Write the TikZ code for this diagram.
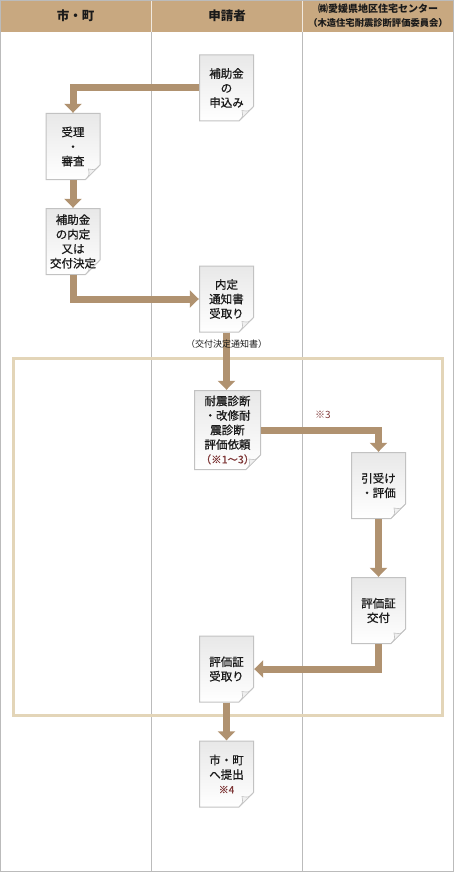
\documentclass[tikz,border=0pt]{standalone}
\usepackage{fontspec}
\setmainfont{Noto Sans CJK JP}
\newfontfamily\docfont{Noto Sans CJK JP}[FakeBold=0.7]
\usetikzlibrary{
  arrows.meta,  % 太い三角矢印
  calc,         % 用紙の角の計算
  positioning   % 注記の相対配置
}
\definecolor{headtan}{HTML}{C8A880}
\definecolor{flowtan}{HTML}{B09270}
\definecolor{framebeige}{HTML}{E3D5B8}
\definecolor{laneline}{HTML}{BBBBBB}
\definecolor{docline}{HTML}{C2C2C2}
\definecolor{docgray}{HTML}{E8E8E8}
\definecolor{notered}{HTML}{7D3535}
\definecolor{inkblack}{HTML}{1A1A1A}
% 書類の形 (右下が折れた用紙)
\newcommand{\docpaper}{%
  \coordinate (pnw) at (path picture bounding box.north west);
  \coordinate (pse) at (path picture bounding box.south east);
  \shadedraw[top color=docgray, bottom color=white, draw=docline, line width=1pt]
    ($(pnw)+(0.5pt,-0.5pt)$) -- ($(pse|-pnw)+(-0.5pt,-0.5pt)$)
    -- ($(pse)+(-0.5pt,15pt)$) -- ($(pse)+(-15pt,0.5pt)$)
    -- ($(pnw|-pse)+(0.5pt,0.5pt)$) -- cycle;
  \filldraw[fill=black!6, draw=docline, line width=0.6pt]
    ($(pse)+(-15pt,0.5pt)$) -- ($(pse)+(-0.5pt,15pt)$)
    .. controls ($(pse)+(-5pt,10pt)$) .. ($(pse)+(-12pt,11pt)$)
    .. controls ($(pse)+(-11pt,5pt)$) .. cycle;
}
\tikzset{
  lane line/.style={
    draw=laneline,
    line width=1pt
  },
  eval frame/.style={
    draw=framebeige,
    line width=3pt
  },
  flow arrow/.style={
    -{Triangle[width=17pt,length=9pt]},
    line width=7pt,
    draw=flowtan
  },
  lane head/.style={
    text=inkblack,
    font=\fontsize{12.5}{14}\selectfont\bfseries
  },
  doc box/.style={
    minimum width=55pt,
    minimum height=67pt,
    inner sep=0pt,
    align=center,
    text=inkblack,
    font=\docfont\fontsize{11.5}{14.5}\selectfont,
    path picture={\docpaper}
  },
  wide doc box/.style={
    doc box,
    minimum width=67pt,
    minimum height=80pt
  },
  note text/.style={
    text=notered,
    font=\fontsize{10}{12}\selectfont
  }
}

\begin{document}
\begin{tikzpicture}[x=1pt, y=-1pt]
    \useasboundingbox (0,0) rectangle (454,872);

    % --- 見出し帯と列の区切り ---
    \fill[headtan] (0,0) rectangle (454,32);
    \foreach \x in {151.5,302.5} {
      \draw[lane line] (\x,32) -- (\x,872);
      \draw[draw=white!75!headtan, line width=1pt] (\x,0) -- (\x,32);
    }
    \draw[lane line] (0.5,0.5) rectangle (453.5,871.5);

    \node[lane head] (laneA) at (75.5,16) {市・町};
    \node[lane head] (laneB) at (227,16) {申請者};
    \node[lane head, align=center, font=\fontsize{10}{14}\selectfont\bfseries] (laneC) at (378,16)
      {㈱愛媛県地区住宅センター\\{\fontsize{9.3}{11}\selectfont（木造住宅耐震診断評価委員会）}};

    % 評価の範囲を囲む枠
    \draw[eval frame] (13.5,358) rectangle (442.5,715);

    % --- 書類 ---
    \node[doc box] (apply)   at (226.5,88)    {補助金\\の\\申込み};
    \node[doc box] (receive) at (73,146.5)    {受理\\・\\審査};
    \node[doc box] (decide)  at (73,241.5)    {補助金\\の内定\\又は\\交付決定};
    \node[doc box] (notice)  at (226.5,299)   {内定\\通知書\\受取り};
    \node[wide doc box] (request) at (227.5,430)
      {耐震診断\\・改修耐\\震診断\\評価依頼\\{\color{notered}\fontsize{10.5}{12}\selectfont（※1〜3）}};
    \node[doc box] (accept)  at (378.5,485.5) {引受け\\・評価};
    \node[doc box] (issue)   at (378.5,610.5) {評価証\\交付};
    \node[doc box] (getcert) at (226.5,669)   {評価証\\受取り};
    \node[doc box] (submit)  at (226.5,774)   {市・町\\へ提出\\{\color{notered}\fontsize{10}{12}\selectfont ※4}};

    % --- 流れの矢印 ---
    \draw[flow arrow] (apply.west) -| (receive.north);
    \draw[flow arrow] (receive.south) -- (decide.north);
    \draw[flow arrow] (decide.south) |- (notice.west);
    \draw[flow arrow] (notice.south) -- (notice.south |- request.north);
    \draw[flow arrow] (request.east) -| (accept.north);
    \draw[flow arrow] (accept.south) -- (issue.north);
    \draw[flow arrow] (issue.south) |- (getcert.east);
    \draw[flow arrow] (getcert.south) -- (submit.north);

    % 注記
    \node[below=4pt of notice, text=inkblack, font=\fontsize{9}{11}\selectfont] (noticeNote) {（交付決定通知書）};
    \node[note text] (flowNote) at (323,415) {※3};
\end{tikzpicture}
\end{document}
